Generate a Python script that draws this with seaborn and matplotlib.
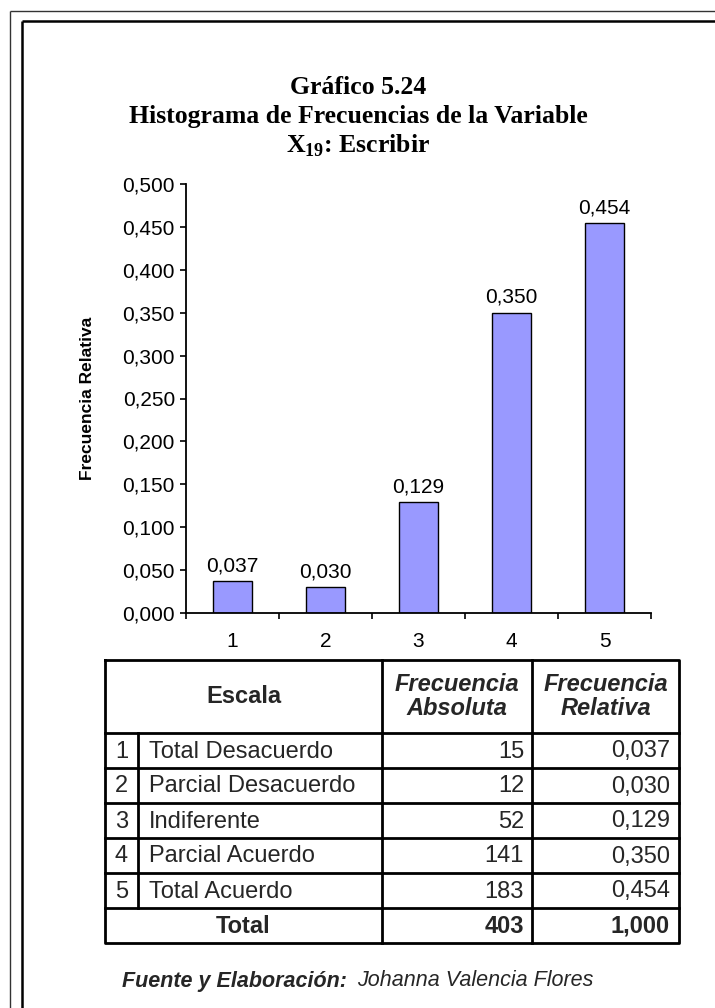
import matplotlib
matplotlib.use("Agg")
import matplotlib.pyplot as plt
import seaborn as sns
import pandas as pd
from matplotlib.ticker import FuncFormatter

# ---------------- data ----------------
categories = ["1", "2", "3", "4", "5"]
rel_freq = [0.037, 0.030, 0.129, 0.350, 0.454]
scale_labels = ["Total Desacuerdo", "Parcial Desacuerdo", "Indiferente",
                "Parcial Acuerdo", "Total Acuerdo"]
abs_freq = [15, 12, 52, 141, 183]
total_abs = 403
total_rel = 1.000
y_ticks = [0.0, 0.05, 0.10, 0.15, 0.20, 0.25, 0.30, 0.35, 0.40, 0.45, 0.50]
title_lines = ["Gráfico 5.24",
               "Histograma de Frecuencias de la Variable",
               r"X$_{\mathrm{19}}$: Escribir"]
ylabel = "Frecuencia Relativa"
header_labels = ["Escala", "Frecuencia\nAbsoluta", "Frecuencia\nRelativa"]
total_label = "Total"
footer_bold = "Fuente y Elaboración:"
footer_text = "Johanna Valencia Flores"


def fmt(v, nd=3):
    return f"{v:.{nd}f}".replace(".", ",")


sns.set_style("white")
plt.rcParams["font.family"] = ["Liberation Sans", "DejaVu Sans"]
plt.rcParams["mathtext.fontset"] = "custom"
plt.rcParams["mathtext.rm"] = "Liberation Serif:bold"
plt.rcParams["mathtext.bf"] = "Liberation Serif:bold"

W, H = 715, 1008
fig = plt.figure(figsize=(W / 100, H / 100), dpi=100)
fig.patch.set_facecolor("white")

# ---------------- chart ----------------
ax = fig.add_axes([186 / W, 1 - 613 / H, 465 / W, 429 / H])
df = pd.DataFrame({"Escala": categories, "Frecuencia Relativa": rel_freq})
sns.barplot(data=df, x="Escala", y="Frecuencia Relativa", color="#9999FF",
            saturation=1, edgecolor="black", linewidth=1.0, width=0.41, ax=ax)
ax.set_xlim(-0.5, 4.5)
ax.set_ylim(0, 0.5)
ax.set_yticks(y_ticks)
ax.yaxis.set_major_formatter(FuncFormatter(lambda v, p: fmt(v)))
ax.tick_params(axis="y", direction="out", length=4, width=1.2, labelsize=15,
               pad=4, color="black", left=True, labelcolor="black")
ax.set_xticks([i - 0.5 for i in range(6)], minor=True)
ax.tick_params(axis="x", which="major", length=0, pad=14, labelsize=15,
               labelcolor="black")
ax.tick_params(axis="x", which="minor", direction="out", length=4, width=1.2,
               bottom=True, color="black")
for s in ["top", "right"]:
    ax.spines[s].set_visible(False)
for s in ["left", "bottom"]:
    ax.spines[s].set_color("black")
    ax.spines[s].set_linewidth(1.3)
ax.set_xlabel("")
ax.set_ylabel(ylabel, fontsize=12.5, fontweight="bold", color="black")
ax.yaxis.set_label_coords(-0.196, 0.5)
ax.bar_label(ax.containers[0], labels=[fmt(v) for v in rel_freq],
             padding=4.5, fontsize=15, color="black")

# ---------------- overlay (frame, title, table, footer) ----------------
ov = fig.add_axes([0, 0, 1, 1])
ov.set_xlim(0, W)
ov.set_ylim(H, 0)
ov.axis("off")

# double frame
ov.plot([10, 10], [11, H + 10], color="#333333", lw=1.0, solid_capstyle="butt")
ov.plot([10, W + 10], [11, 11], color="#333333", lw=1.0, solid_capstyle="butt")
ov.plot([22, 22], [21, H + 10], color="black", lw=1.8, solid_capstyle="butt")
ov.plot([22, W + 10], [21, 21], color="black", lw=1.8, solid_capstyle="butt")

# title
for yy, line in zip([88, 117, 146], title_lines):
    ov.text(358, yy, line, ha="center", va="center", fontsize=18.5,
            fontweight="bold", family="Liberation Serif", color="black")

# table
xl, xn, xa, xr, xR = 105, 138, 382, 532, 679
yt, yh, rh = 660, 733, 35
nrows = len(scale_labels) + 1
yb = yh + nrows * rh
lw = 2.0
kw = dict(color="black", lw=lw, solid_capstyle="projecting")
ov.plot([xl, xR, xR, xl, xl], [yt, yt, yb, yb, yt], **kw)
for i in range(nrows):
    yy = yh + i * rh
    ov.plot([xl, xR], [yy, yy], **kw)
for xx in (xa, xr):
    ov.plot([xx, xx], [yt, yb], **kw)
ov.plot([xn, xn], [yh, yh + len(scale_labels) * rh], **kw)

fs = 17
ymid_h = (yt + yh) / 2
ov.text((xl + xa) / 2, ymid_h, header_labels[0], ha="center", va="center",
        fontsize=fs, fontweight="bold")
ov.text((xa + xr) / 2, ymid_h, header_labels[1], ha="center", va="center",
        fontsize=fs, fontweight="bold", style="italic", linespacing=1.1)
ov.text((xr + xR) / 2, ymid_h, header_labels[2], ha="center", va="center",
        fontsize=fs, fontweight="bold", style="italic", linespacing=1.1)

for i, (c, lab, a, r) in enumerate(zip(categories, scale_labels, abs_freq, rel_freq)):
    yc = yh + (i + 0.5) * rh + 1
    ov.text((xl + xn) / 2, yc, c, ha="center", va="center", fontsize=fs)
    ov.text(xn + 11, yc, lab, ha="left", va="center", fontsize=fs)
    ov.text(xr - 8, yc, str(a), ha="right", va="center", fontsize=fs)
    ov.text(xR - 9, yc, fmt(r), ha="right", va="center", fontsize=fs)

yc = yh + (nrows - 0.5) * rh + 1
ov.text((xl + xa) / 2, yc, total_label, ha="center", va="center",
        fontsize=fs, fontweight="bold")
ov.text(xr - 8, yc, str(total_abs), ha="right", va="center",
        fontsize=fs, fontweight="bold")
ov.text(xR - 9, yc, fmt(total_rel), ha="right", va="center",
        fontsize=fs, fontweight="bold")

# footer
t1 = ov.text(122, 981, footer_bold, ha="left", va="center", fontsize=15.5,
             fontweight="bold", style="italic")
ov.annotate(footer_text, xy=(1, 0.5), xycoords=t1, xytext=(7, 0),
            textcoords="offset points", ha="left", va="center",
            fontsize=15.5, style="italic")

fig.savefig("out.png", dpi=100, facecolor="white")
